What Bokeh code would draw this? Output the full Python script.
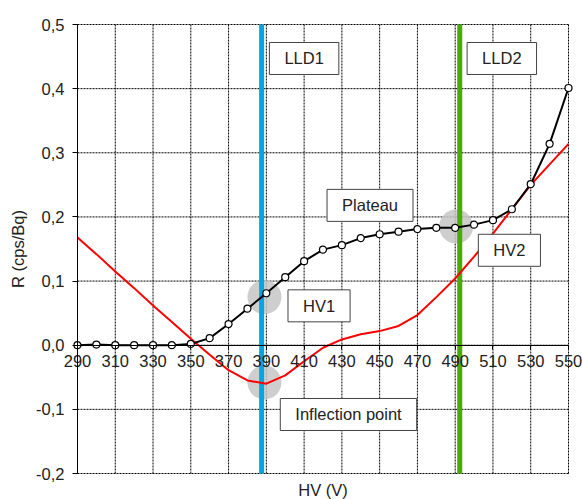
from bokeh.plotting import figure
from bokeh.models import (Range1d, FixedTicker, LinearAxis, CustomJSTickFormatter,
                          Label)
from bokeh.embed import file_html
from bokeh.resources import INLINE

# ---- data ----
hv = [290, 300, 310, 320, 330, 340, 350, 360, 370, 380, 390, 400, 410, 420,
      430, 440, 450, 460, 470, 480, 490, 500, 510, 520, 530, 540, 550]
rate = [0.0, 0.001, 0.0, 0.0, 0.0, 0.0, 0.002, 0.011, 0.033, 0.057, 0.081,
        0.106, 0.131, 0.149, 0.156, 0.167, 0.173, 0.177, 0.181, 0.183, 0.183,
        0.188, 0.195, 0.212, 0.251, 0.314, 0.401]
deriv = [0.168, 0.142, 0.115, 0.089, 0.062, 0.036, 0.010, -0.015, -0.039,
         -0.055, -0.060, -0.047, -0.025, -0.004, 0.009, 0.017, 0.022, 0.030,
         0.047, 0.075, 0.104, 0.138, 0.174, 0.212, 0.250, 0.282, 0.314]
x_ticks = [290, 310, 330, 350, 370, 390, 410, 430, 450, 470, 490, 510, 530, 550]
y_ticks = [-0.2, -0.1, 0.0, 0.1, 0.2, 0.3, 0.4, 0.5]
lld1_hv = 387.5
lld2_hv = 492.4
mark_x = [389, 389, 490.5]
mark_y = [0.075, -0.058, 0.185]
box_texts = ["LLD1", "LLD2", "Plateau", "HV2", "HV1", "Inflection point"]
box_x = [410, 514.7, 444.9, 518.7, 417.9, 433.5]
box_y = [0.447, 0.447, 0.218, 0.148, 0.0614, -0.108]

FONT = "Liberation Sans"
FS = "16.5px"
TXT = "#222222"

# ---- layout: the plotting area covers the whole canvas so that the
# crossing axis and its end labels are not clipped ----
W, H = 582, 499
M_LEFT, M_RIGHT, M_TOP, M_BOTTOM = 77, 14, 24, 26
xmin, xmax = x_ticks[0], x_ticks[-1]
ymin, ymax = y_ticks[0], y_ticks[-1]
kx = (xmax - xmin) / (W - M_LEFT - M_RIGHT)
ky = (ymax - ymin) / (H - M_TOP - M_BOTTOM)
x_range = Range1d(xmin - M_LEFT * kx, xmax + M_RIGHT * kx)
y_range = Range1d(ymin - M_BOTTOM * ky, ymax + M_TOP * ky)

p = figure(width=W, height=H, output_backend="svg", toolbar_location=None,
           x_range=x_range, y_range=y_range,
           x_axis_location=None, y_axis_location=None, min_border=0)
p.background_fill_color = "white"
p.border_fill_color = "white"
p.outline_line_color = None
p.grid.visible = False

# dotted grid (bounded to the data area)
p.segment(x0=x_ticks, y0=[ymin] * len(x_ticks), x1=x_ticks, y1=[ymax] * len(x_ticks),
          line_color="black", line_width=1, line_dash="2 1")
p.segment(x0=[xmin] * len(y_ticks), y0=y_ticks, x1=[xmax] * len(y_ticks), y1=y_ticks,
          line_color="black", line_width=1, line_dash="2 1")

# x axis label at the bottom edge of the data area
bx = LinearAxis(fixed_location=ymin, bounds=(xmin, xmax), ticker=FixedTicker(ticks=[]))
bx.axis_line_color = None
bx.major_tick_line_color = None
bx.minor_tick_line_color = None
bx.major_tick_out = 0
bx.major_tick_in = 0
bx.major_label_standoff = 0
bx.axis_label = "HV (V)"
bx.axis_label_text_font = FONT
bx.axis_label_text_font_size = FS
bx.axis_label_text_font_style = "normal"
bx.axis_label_text_color = TXT
bx.axis_label_standoff = 7
p.add_layout(bx, "below")

# x axis crossing at y = 0
ax0 = LinearAxis(fixed_location=0, bounds=(xmin, xmax), ticker=FixedTicker(ticks=x_ticks))
ax0.axis_line_color = "black"
ax0.major_tick_out = 4
ax0.major_tick_in = 0
ax0.minor_tick_line_color = None
ax0.major_label_standoff = 6
ax0.major_label_text_font = FONT
ax0.major_label_text_font_size = FS
ax0.major_label_text_color = TXT
p.add_layout(ax0, "below")

# y axis at x = 290
ya = LinearAxis(fixed_location=xmin, bounds=(ymin, ymax), ticker=FixedTicker(ticks=y_ticks))
ya.formatter = CustomJSTickFormatter(code="return tick.toFixed(1).replace('.', ',');")
ya.axis_line_color = "black"
ya.major_tick_out = 5
ya.major_tick_in = 0
ya.minor_tick_line_color = None
ya.major_label_standoff = 8
ya.major_label_text_font = FONT
ya.major_label_text_font_size = FS
ya.major_label_text_color = TXT
ya.axis_label = "R (cps/Bq)"
ya.axis_label_text_font = FONT
ya.axis_label_text_font_size = FS
ya.axis_label_text_font_style = "normal"
ya.axis_label_text_color = TXT
ya.axis_label_standoff = 6
p.add_layout(ya, "left")

# gray highlight circles
p.scatter(mark_x, mark_y, size=34, marker="circle", fill_color="#c6c6c6",
          fill_alpha=0.85, line_color=None)

# LLD lines
p.segment(x0=[lld1_hv], y0=[ymin], x1=[lld1_hv], y1=[ymax],
          line_color="#00A6E4", line_width=5)
p.segment(x0=[lld2_hv], y0=[ymin], x1=[lld2_hv], y1=[ymax],
          line_color="#4CAA00", line_width=5)

# curves
p.line(hv, deriv, line_color="#FF0000", line_width=2)
p.line(hv, rate, line_color="black", line_width=2)
p.scatter(hv, rate, size=7, marker="circle", fill_color="white",
          line_color="black", line_width=1.2)

# text boxes
for t, x, y in zip(box_texts, box_x, box_y):
    p.add_layout(Label(x=x, y=y, text=t, text_align="center",
                       text_baseline="middle", text_font=FONT,
                       text_font_size=FS, text_color=TXT,
                       background_fill_color="white",
                       border_line_color="#444444", border_line_width=1,
                       padding=dict(left=15, right=15, top=7, bottom=7)))

open("out.html", "w").write(file_html(p, INLINE))
